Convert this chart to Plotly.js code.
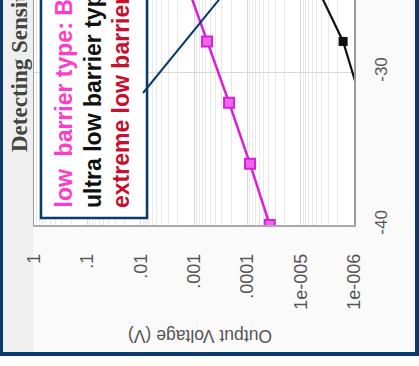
<!DOCTYPE html>
<html>
<head>
<meta charset="utf-8">
<script src="https://cdn.plot.ly/plotly-3.0.1.min.js"></script>
<style>html,body{margin:0;padding:0;background:#fff;}#chart{width:419px;height:366px;}</style>
</head>
<body>
<div id="chart"></div>
<script>
// Input power (dBm) and output voltage (V) read from the (rotated) picture
const powerLow = [-40, -36, -32, -28, -24];
const voltLow = [3.8e-5, 8.9e-5, 2.2e-4, 5.7e-4, 1.45e-3];
const powerUltra = [-32, -28, -24];
const voltUltra = [7.2e-7, 1.6e-6, 5.7e-6];
const voltTickVals = [1, 0.1, 0.01, 0.001, 0.0001, 1e-5, 1e-6];
const voltTickText = ["1", ".1", ".01", ".001", ".0001", "1e-005", "1e-006"];
const powerTickVals = [-40, -30];
const powerTickText = ["-40", "-30"];
const legendTexts = ["low  barrier type: BAT", "ultra low barrier type", "extreme low barrier type"];
const legendColors = ["#ff3cc8", "#111111", "#c8102e"];
const titleText = "Detecting Sensitivity";
const yTitleText = "Output Voltage (V)";

// pixel -> paper helpers (plot area: x 34..354, y 0..225)
const L = 34, R = 354, T = 0, B = 225;
const px = v => (v - L) / (R - L);
const py = v => (B - v) / (B - T);
const navy = "#0b3a6c";

const traces = [
  {x: voltLow, y: powerLow, type: "scatter", mode: "lines+markers",
   line: {color: "#d820d8", width: 2.5},
   marker: {symbol: "square", size: 10, color: "#ee66ee", line: {color: "#d820d8", width: 2}},
   showlegend: false},
  {x: voltUltra, y: powerUltra, type: "scatter", mode: "lines+markers",
   line: {color: "#111", width: 2.2},
   marker: {symbol: "square", size: 9, color: "#111"},
   showlegend: false}
];

const shapes = [
  // title band
  {type: "rect", xref: "paper", yref: "paper", x0: px(3), x1: px(33), y0: py(-5), y1: py(352), fillcolor: "#efefef", line: {width: 0}, layer: "below"},
  // legend box
  {type: "rect", xref: "paper", yref: "paper", x0: px(41), x1: px(147), y0: py(-40), y1: py(218), fillcolor: "#ffffff", line: {color: navy, width: 2.5}},
  // callout line
  {type: "line", xref: "paper", yref: "paper", x0: px(143), y0: py(93), x1: px(235), y1: py(-20), line: {color: navy, width: 2}},
  // frame
  {type: "rect", xref: "paper", yref: "paper", x0: px(-2), x1: px(3), y0: py(-5), y1: py(356), fillcolor: navy, line: {width: 0}},
  {type: "rect", xref: "paper", yref: "paper", x0: px(-2), x1: px(421), y0: py(352), y1: py(356), fillcolor: navy, line: {width: 0}},
  {type: "rect", xref: "paper", yref: "paper", x0: px(415), x1: px(421), y0: py(-5), y1: py(356), fillcolor: navy, line: {width: 0}},
  {type: "rect", xref: "paper", yref: "paper", x0: px(-2), x1: px(421), y0: py(356), y1: py(370), fillcolor: "#ffffff", line: {width: 0}}
];

const annotations = [
  {text: "<b>" + titleText + "</b>", xref: "paper", yref: "paper", x: px(19), y: py(154),
   xanchor: "center", yanchor: "bottom", textangle: -90, showarrow: false,
   font: {family: "Liberation Serif", size: 23, color: "#444"}},
  {text: yTitleText, xref: "paper", yref: "paper", x: px(200), y: py(336),
   xanchor: "center", yanchor: "middle", textangle: 180, showarrow: false,
   font: {family: "Liberation Sans", size: 17.5, color: "#555"}}
];
const legendX = [63, 93, 121];
legendTexts.forEach((t, i) => {
  annotations.push({text: "<b>" + t + "</b>", xref: "paper", yref: "paper", x: px(legendX[i]), y: py(210),
    xanchor: "center", yanchor: "bottom", textangle: -90, showarrow: false,
    font: {family: "Liberation Sans", size: 23, color: legendColors[i]}});
});

const layout = {
  width: 419, height: 366,
  margin: {l: L, r: 419 - R, t: T, b: 366 - B},
  paper_bgcolor: "#fafafa", plot_bgcolor: "#ffffff",
  showlegend: false,
  xaxis: {type: "log", range: [0, -6], tickvals: voltTickVals, ticktext: voltTickText,
    tickangle: -90, ticks: "", ticklabelstandoff: 20,
    tickfont: {family: "Liberation Sans", size: 18, color: "#555"},
    showgrid: true, gridcolor: "#d8d8d8", gridwidth: 1,
    minor: {dtick: "D1", showgrid: true, gridcolor: "#e8e8e8", gridwidth: 1},
    showline: true, linecolor: "#aaa", linewidth: 1.5, zeroline: false},
  yaxis: {range: [-40, -25.29], side: "right", tickvals: powerTickVals, ticktext: powerTickText,
    tickangle: -90, ticks: "", ticklabelstandoff: 11,
    tickfont: {family: "Liberation Sans", size: 17, color: "#555"},
    showgrid: true, gridcolor: "#d8d8d8", gridwidth: 1,
    showline: true, mirror: true, linecolor: "#999", linewidth: 1.5, zeroline: false},
  shapes: shapes,
  annotations: annotations
};

Plotly.newPlot("chart", traces, layout, {staticPlot: true, displayModeBar: false});
</script>
</body>
</html>
